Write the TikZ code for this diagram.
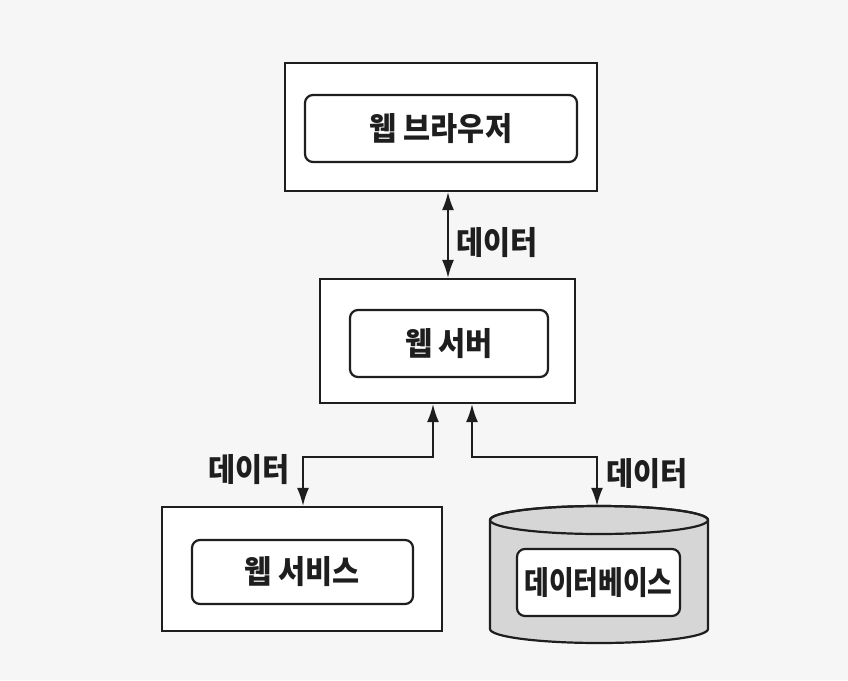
\documentclass[tikz,border=0pt]{standalone}
\usepackage{fontspec}
\newfontfamily\kr{Noto Sans CJK KR}
\usetikzlibrary{arrows.meta}
\definecolor{ink}{RGB}{30,30,30}
\definecolor{paper}{RGB}{246,246,246}
\definecolor{dbfill}{RGB}{214,214,214}
\tikzset{
  outerbox/.style={draw=ink, line width=2.2pt, fill=white, inner sep=0pt},
  innerbox/.style={draw=ink, line width=2.2pt, fill=white, rounded corners=8pt, inner sep=0pt,
    font=\kr\bfseries\fontsize{32}{33}\selectfont, text=ink},
  lbl/.style={font=\kr\bfseries\fontsize{32}{33}\selectfont, text=ink, inner sep=0pt},
  conn2/.style={draw=ink, line width=1.8pt, {Latex[length=18pt,width=12pt]}-{Latex[length=18pt,width=12pt]}},
}
\begin{document}
\begin{tikzpicture}[x=1pt,y=-1pt]
\fill[paper] (0,0) rectangle (848,680);
\useasboundingbox (0,0) rectangle (848,680);

% browser
\node[outerbox, minimum width=312, minimum height=128] (bro) at (441,127) {};
\node[innerbox, minimum width=272, minimum height=67] (broin) at (441,128.5) {\scalebox{0.92}[1]{웹 브라우저}};

% server
\node[outerbox, minimum width=255, minimum height=124] (srv) at (447.5,341) {};
\node[innerbox, minimum width=198, minimum height=67] (srvin) at (449,343.5) {\scalebox{0.92}[1]{웹 서버}};

% web service
\node[outerbox, minimum width=280, minimum height=124] (ws) at (302,569) {};
\node[innerbox, minimum width=221, minimum height=64] (wsin) at (302.5,572) {\scalebox{0.92}[1]{웹 서비스}};

% database cylinder
\filldraw[draw=ink, line width=2.2pt, fill=dbfill]
  (490,520) -- (490,629) arc[start angle=180, end angle=0, x radius=109, y radius=14]
  -- (708,520) arc[start angle=0, end angle=-180, x radius=109, y radius=14] -- cycle;
\draw[ink, line width=2.2pt] (599,520) ellipse[x radius=109, y radius=14];
\node[inner sep=0pt, minimum width=218, minimum height=137] (db) at (599,574.5) {};
\node[innerbox, minimum width=163, minimum height=67] (dbin) at (598.5,582.5) {\scalebox{0.84}[1]{데이터베이스}};

% connectors
\coordinate (jl) at (433,457);
\coordinate (jr) at (472,457);
\draw[conn2] (bro.south -| 448,0) -- (srv.north -| 448,0);
\draw[conn2] (srv.south -| jl) -- (jl) -| (ws.north -| 303,0);
\draw[conn2] (srv.south -| jr) -- (jr) -| (db.north -| 597,0);

% labels
\node[lbl, anchor=west] (l1) at (456,243) {\scalebox{0.92}[1]{데이터}};
\node[lbl, anchor=east] (l2) at (290,470) {\scalebox{0.92}[1]{데이터}};
\node[lbl, anchor=west] (l3) at (606,474) {\scalebox{0.92}[1]{데이터}};
\end{tikzpicture}
\end{document}
